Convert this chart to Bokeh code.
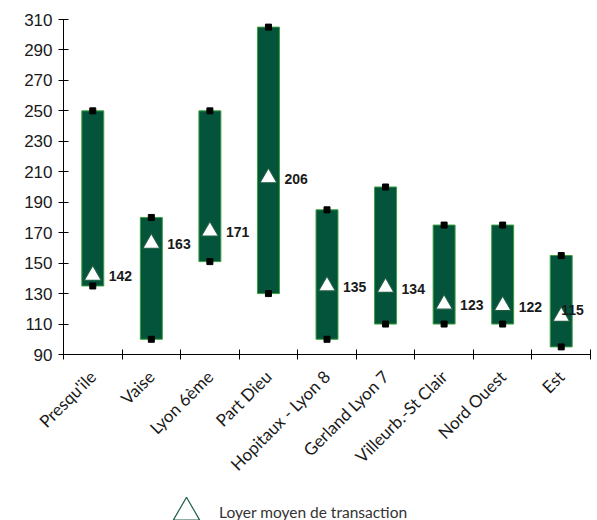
import math

from bokeh.plotting import figure
from bokeh.layouts import column
from bokeh.models import (ColumnDataSource, FixedTicker, Range1d, Legend,
                          LegendItem)
from bokeh.core.properties import value
from bokeh.embed import file_html
from bokeh.resources import INLINE

# Loyers par secteur (EUR/m²/an)
secteurs = ["Presqu'ile", "Vaise", "Lyon 6ème", "Part Dieu",
            "Hopitaux - Lyon 8", "Gerland Lyon 7", "Villeurb.-St Clair",
            "Nord Ouest", "Est"]
loyer_min = [135, 100, 151, 130, 100, 110, 110, 110, 95]
loyer_max = [250, 180, 250, 305, 185, 200, 175, 175, 155]
loyer_moyen = [142, 163, 171, 206, 135, 134, 123, 122, 115]
y_ticks = [90, 110, 130, 150, 170, 190, 210, 230, 250, 270, 290, 310]

# label placement (pixels): the last label sits over its bar
label_dx = [16, 16, 16, 16, 16, 16, 16, 16, 0]
label_dy = [1, 1, 1, 1, 1, 1, 1, 1, -6]

BAR_FILL = "#03543a"
BAR_EDGE = "#3b9e3f"
TRI_EDGE = "#1d5e42"
TEXT = "#1a1a1a"

pos = [i + 0.5 for i in range(len(secteurs))]
src = ColumnDataSource(dict(
    x=pos, low=loyer_min, high=loyer_max, moyen=loyer_moyen,
    label=[str(v) for v in loyer_moyen], dx=label_dx, dy=label_dy,
))

p = figure(width=597, height=490, output_backend="svg", toolbar_location=None,
           x_range=Range1d(0, len(secteurs)), y_range=Range1d(90, 310),
           min_border_left=63, min_border_right=7, min_border_top=19,
           min_border_bottom=136)
p.outline_line_color = None
p.grid.visible = False
p.background_fill_color = "white"
p.border_fill_color = "white"

# high-low boxes with end markers
p.vbar(x="x", width=0.375, bottom="low", top="high", source=src,
       fill_color=BAR_FILL, line_color=BAR_EDGE, line_width=1)
p.scatter(x="x", y="high", source=src, marker="square", size=6,
          fill_color="black", line_color="black")
p.scatter(x="x", y="low", source=src, marker="square", size=6,
          fill_color="black", line_color="black")

# average rent
p.scatter(x="x", y="moyen", source=src, marker="triangle", size=17,
          fill_color="white", line_color=TRI_EDGE, line_width=1.2)
p.text(x="x", y="moyen", text="label", source=src, x_offset="dx",
       y_offset="dy", text_align="left", text_baseline="middle",
       text_font=value("Liberation Sans"), text_font_style="bold",
       text_font_size="14px", text_color=TEXT)

# y axis
yax = p.yaxis[0]
yax.ticker = FixedTicker(ticks=y_ticks)
yax.minor_tick_line_color = None
yax.major_tick_in = 5
yax.major_tick_out = 5
yax.major_label_standoff = 6
yax.major_label_text_font = "Liberation Sans"
yax.major_label_text_font_size = "17px"
yax.major_label_text_color = TEXT
yax.axis_line_color = "black"
yax.major_tick_line_color = "black"

# x axis: labels at category centres, ticks at category boundaries
xax = p.xaxis[0]
xax.ticker = FixedTicker(ticks=pos, minor_ticks=list(range(len(secteurs) + 1)))
xax.major_label_overrides = {x: s for x, s in zip(pos, secteurs)}
xax.major_tick_line_color = None
xax.major_tick_in = 0
xax.major_tick_out = 0
xax.minor_tick_in = 5
xax.minor_tick_out = 5
xax.minor_tick_line_color = "black"
xax.axis_line_color = "black"
xax.major_label_orientation = math.pi / 4
xax.major_label_standoff = 14
xax.major_label_text_font = "Lato"
xax.major_label_text_font_size = "17px"
xax.major_label_text_color = TEXT

# legend strip under the chart (its frame lines up with the chart's frame)
leg = figure(width=597, height=30, output_backend="svg", toolbar_location=None,
             x_axis_type=None, y_axis_type=None, min_border=0,
             x_range=Range1d(0, 1), y_range=Range1d(0, 1))
leg.outline_line_color = None
leg.grid.visible = False
r_key = leg.scatter(x=[-1], y=[-1], marker="triangle", fill_color="white",
                    line_color=TRI_EDGE, line_width=1.2)
legend = Legend(items=[LegendItem(label="Loyer moyen de transaction",
                                  renderers=[r_key])],
                location=(90, -25), glyph_width=66, glyph_height=66,
                label_standoff=0, padding=0, margin=0, spacing=0,
                border_line_color=None, background_fill_alpha=0,
                label_text_font="Lato", label_text_font_size="15.5px",
                label_text_color="#333333", label_text_baseline="hanging")
leg.add_layout(legend)

open("out.html", "w").write(file_html(column(p, leg, spacing=0), INLINE))
